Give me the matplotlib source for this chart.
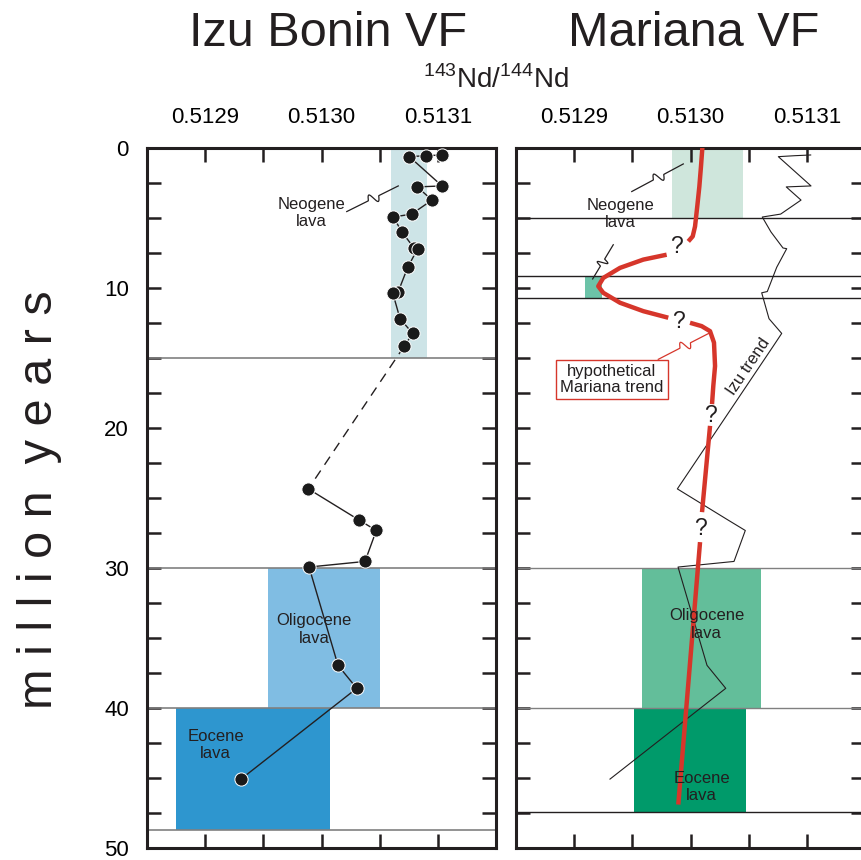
import numpy as np
import matplotlib
matplotlib.use("Agg")
import matplotlib.pyplot as plt
import matplotlib.transforms as mtransforms
from matplotlib import font_manager

plt.rcParams['font.family'] = ['Liberation Sans', 'DejaVu Sans']
plt.rcParams['mathtext.fontset'] = 'custom'
plt.rcParams['mathtext.rm'] = 'Liberation Sans'
avail = {f.name for f in font_manager.fontManager.ttflist}
narrow = 'Liberation Sans Narrow' if 'Liberation Sans Narrow' in avail else 'Liberation Sans'
xt_size = 18 if narrow == 'Liberation Sans Narrow' else 16

# Izu Bonin 143Nd/144Nd vs age (Ma); first 17 points Neogene, rest Paleogene
izu_nd = [0.5131033, 0.5130898, 0.5130755, 0.5131036, 0.5130823, 0.5130950,
          0.5130775, 0.5130617, 0.5130692, 0.5130795, 0.5130827, 0.5130741,
          0.5130660, 0.5130612, 0.5130675, 0.5130784, 0.5130712,
          0.5129887, 0.5130322, 0.5130471, 0.5130374, 0.5129893, 0.5130142,
          0.5130303, 0.5129308]
izu_age = [0.52, 0.57, 0.64, 2.73, 2.80, 3.74,
           4.74, 4.95, 6.02, 7.16, 7.21, 8.54,
           10.27, 10.36, 12.21, 13.26, 14.16,
           24.36, 26.58, 27.33, 29.54, 29.94, 36.96,
           38.60, 45.08]
n_neogene = 17

# lava boxes: (nd low, nd high, age top, age bottom)
izu_box_names = ['Neogene', 'Oligocene', 'Eocene']
izu_box_nd = [(0.5130595, 0.5130910), (0.5129543, 0.5130503), (0.5128749, 0.5130073)]
izu_box_age = [(0, 15), (30, 40), (40, 48.7)]
izu_box_colors = ['#cde4e7', '#80bde3', '#2e96cf']
izu_bounds = [15, 30, 40, 48.7]

mar_box_names = ['Neogene', 'mid Miocene', 'Oligocene', 'Eocene']
mar_box_nd = [(0.5129844, 0.5130449), (0.5129093, 0.5129237),
              (0.5129586, 0.5130603), (0.5129514, 0.5130476)]
mar_box_age = [(0, 5), (9.13, 10.72), (30, 40), (40, 47.45)]
mar_box_colors = ['#cfe6dc', '#6cc3a8', '#63be9a', '#009a6a']
mar_bounds = [5, 9.13, 10.72, 30, 40, 47.45]

# hypothetical Mariana trend, broken at the question marks
trend_nd = [
    [0.5130102, 0.5130090, 0.5130076, 0.5130058, 0.5130039, 0.5130019, 0.5129981],
    [0.5129795, 0.5129594, 0.5129394, 0.5129250, 0.5129207, 0.5129250, 0.5129394,
     0.5129594, 0.5129809],
    [0.5129996, 0.5130096, 0.5130168, 0.5130202, 0.5130211, 0.5130196, 0.5130185],
    [0.5130168, 0.5130099],
    [0.5130082, 0.5129895],
]
trend_age = [
    [0, 1.35, 2.78, 4.20, 5.62, 6.33, 6.69],
    [7.64, 7.99, 8.58, 9.30, 9.89, 10.36, 11.07, 11.67, 12.14],
    [12.50, 12.74, 13.10, 13.92, 15.59, 17.01, 18.31],
    [19.86, 26.02],
    [28.16, 46.90],
]
qmark_nd = [0.5129881, 0.5129895, 0.5130168, 0.5130082]
qmark_age = [7.05, 12.38, 19.15, 27.21]

nd_ticks = [0.51290, 0.51295, 0.51300, 0.51305, 0.51310]
nd_labels = ['0.5129', '', '0.5130', '', '0.5131']
age_ticks = np.arange(0, 50.01, 2.5)

INK = '#231f20'
RED = '#d6362b'

fig = plt.figure(figsize=(8.61, 8.60), dpi=100)
axL = fig.add_axes([147 / 861, 1 - 848 / 860, 349 / 861, 700.3 / 860])
axR = fig.add_axes([516 / 861, 1 - 848 / 860, 349 / 861, 700.3 / 860])


def setup(ax, ylabels):
    ax.set_xlim(0.51285, 0.51315)
    ax.set_ylim(50, 0)
    ax.set_xticks(nd_ticks)
    ax.set_xticklabels(nd_labels, fontfamily=narrow, fontsize=xt_size)
    ax.set_yticks(age_ticks)
    if ylabels:
        ax.set_yticklabels([('%d' % a if a % 10 == 0 else '') for a in age_ticks], fontsize=16)
        shift = mtransforms.ScaledTranslation(0, 3 / 100, fig.dpi_scale_trans)
        for t in ax.get_yticklabels():
            t.set_transform(t.get_transform() + shift)
    ax.tick_params(axis='x', which='both', top=True, bottom=True, labeltop=True,
                   labelbottom=False, direction='in', length=10, width=1.8,
                   color=INK, pad=14)
    ax.tick_params(axis='y', which='both', left=True, right=True, labelleft=ylabels,
                   labelright=False, direction='in', length=10, width=1.8,
                   color=INK, pad=13)
    for s in ax.spines.values():
        s.set_linewidth(2.2)
        s.set_color(INK)


def squiggle(ax, p0, p1, color=INK, lw=0.9):
    a = ax.transData.transform(p0)
    b = ax.transData.transform(p1)
    d = b - a
    L = np.hypot(*d)
    u = d / L
    nrm = np.array([-u[1], u[0]])
    t = np.linspace(0, 1, 200)
    off = np.where((t > 0.42) & (t < 0.62), 5 * np.sin(2 * np.pi * (t - 0.42) / 0.20), 0)
    pts = a[None, :] + t[:, None] * d[None, :] + off[:, None] * nrm[None, :]
    pts = ax.transData.inverted().transform(pts)
    ax.plot(pts[:, 0], pts[:, 1], color=color, lw=lw, zorder=4)


setup(axL, True)
setup(axR, False)

# left panel: Izu Bonin
for (lo, hi), (top, bot), c in zip(izu_box_nd, izu_box_age, izu_box_colors):
    axL.fill_betweenx([top, bot], lo, hi, color=c, lw=0, zorder=1)
for b in izu_bounds:
    axL.axhline(b, color='#808080', lw=1.2, zorder=2)

axL.plot(izu_nd[:n_neogene], izu_age[:n_neogene], color=INK, lw=1, zorder=3)
axL.plot(izu_nd[n_neogene:], izu_age[n_neogene:], color=INK, lw=1, zorder=3)
axL.plot(izu_nd[n_neogene - 1:n_neogene + 1], izu_age[n_neogene - 1:n_neogene + 1],
         color=INK, lw=1, ls=(0, (7, 5)), zorder=3)
axL.plot(izu_nd, izu_age, ls='none', marker='o', ms=9.5, mfc='#1a1a1a',
         mec='white', mew=0.7, zorder=5)

lab = dict(ha='center', va='center', fontsize=12, color=INK, linespacing=1.2, zorder=6)
axL.text(0.5129916, 4.65, 'Neogene\nlava', **lab)
squiggle(axL, (0.5130217, 4.56), (0.5130660, 2.73))
axL.text(0.5129936, 34.4, 'Oligocene\nlava', **lab)
axL.text(0.5129091, 42.65, 'Eocene\nlava', **lab)

# right panel: Mariana
for (lo, hi), (top, bot), c in zip(mar_box_nd, mar_box_age, mar_box_colors):
    axR.fill_betweenx([top, bot], lo, hi, color=c, lw=0, zorder=1)
for b in mar_bounds:
    col = '#808080' if b in (30, 40) else INK
    axR.axhline(b, color=col, lw=1.0, zorder=2)

axR.plot(izu_nd, izu_age, color=INK, lw=0.8, zorder=3)
for xs, ys in zip(trend_nd, trend_age):
    axR.plot(xs, ys, color=RED, lw=3.2, solid_capstyle='butt',
             solid_joinstyle='round', zorder=4)
for x, y in zip(qmark_nd, qmark_age):
    axR.text(x, y, '?', ha='center', va='center', fontsize=16.5, color=INK, zorder=6)

axR.text(0.5129394, 4.72, 'Neogene\nlava', **lab)
squiggle(axR, (0.5129495, 3.13), (0.5129938, 1.16))
squiggle(axR, (0.5129336, 6.93), (0.5129159, 9.37))
axR.text(0.5129325, 16.55, 'hypothetical\nMariana trend', ha='center', va='center',
         fontsize=12, color=INK, linespacing=1.05, zorder=6,
         bbox=dict(boxstyle='square,pad=0.25', fc='white', ec=RED, lw=1.0))
squiggle(axR, (0.5129723, 15.11), (0.5130168, 13.21), color=RED, lw=0.9)
axR.text(0.5130500, 15.6, 'Izu trend', ha='center', va='center', rotation=56,
         fontsize=12, color=INK, zorder=6)
axR.text(0.5130139, 34.04, 'Oligocene\nlava', **lab)
axR.text(0.5130096, 45.64, 'Eocene\nlava', **lab)

fig.text(328 / 861, 1 - 34 / 860, 'Izu Bonin VF', ha='center', va='center',
         fontsize=35, color=INK)
fig.text(694 / 861, 1 - 34 / 860, 'Mariana VF', ha='center', va='center',
         fontsize=35, color=INK)
fig.text(496 / 861, 1 - 80 / 860, r'$^{143}$Nd/$^{144}$Nd', ha='center', va='center',
         fontsize=20, fontfamily=narrow, color=INK)
fig.text(40 / 861, 1 - 500 / 860, 'm i l l i o n  y e a r s', ha='center', va='center',
         rotation=90, fontsize=35, color=INK)

fig.savefig('out.png', dpi=100)
